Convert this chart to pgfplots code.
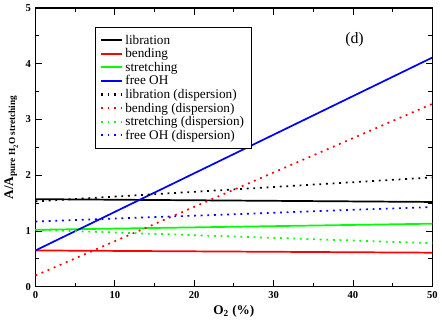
\documentclass[border=0pt]{standalone}
\usepackage{amsmath}
\usepackage{pgfplots}
\pgfplotsset{compat=1.18}
\usepackage{fontspec}
\setmainfont{Liberation Serif}
\definecolor{xgreen}{RGB}{0,255,0}
\definecolor{xred}{RGB}{255,0,0}
\definecolor{xblue}{RGB}{0,0,255}
\begin{document}
\begin{tikzpicture}
\begin{axis}[
  scale only axis,
  width=300pt, height=210.75pt,
  xmin=0, xmax=50, ymin=0, ymax=5,
  xtick={0,10,20,30,40,50}, ytick={0,1,2,3,4,5},
  minor x tick num=1, minor y tick num=1,
  tick align=inside,
  major tick length=5pt, minor tick length=3pt,
  axis line style={line width=1.2pt},
  every tick/.style={black, line width=0.6pt},
  tick label style={font=\bfseries\footnotesize},
  /pgf/number format/assume math mode=true,
  xlabel={\bfseries O$_{\text{\bfseries 2}}$ (\%)},
  ylabel={\bfseries A/A$_{\text{\bfseries pure H}_{\text{\bfseries 2}}\text{\bfseries O stretching}}$},
  label style={font=\bfseries\normalsize},
  xlabel style={yshift=2pt},
  ylabel style={yshift=-1pt},
  legend style={at={(0.15,0.93)}, anchor=north west, font=\fontsize{10}{10}\selectfont, row sep=-2.2pt, inner sep=3.5pt, legend cell align=left},
  legend image code/.code={\draw[#1, line width=1.6pt] (0cm,0.3pt) -- (0.55cm,0.3pt);},
]
\addplot[black, line width=1.3pt] coordinates {(0,1.57) (50,1.52)};
\addlegendentry{libration}
\addplot[xred, line width=1.3pt] coordinates {(0,0.65) (50,0.61)};
\addlegendentry{bending}
\addplot[xgreen, line width=1.3pt] coordinates {(0,1.02) (50,1.13)};
\addlegendentry{stretching}
\addplot[xblue, line width=1.3pt] coordinates {(0,0.65) (50,4.11)};
\addlegendentry{free OH}
\addplot[black, line width=1.3pt, dash pattern=on 1.4pt off 3.6pt] coordinates {(0,1.53) (50,1.96)};
\addlegendentry{libration (dispersion)}
\addplot[xred, line width=1.3pt, dash pattern=on 1.4pt off 3.6pt] coordinates {(0,0.2) (50,3.28)};
\addlegendentry{bending (dispersion)}
\addplot[xgreen, line width=1.3pt, dash pattern=on 1.4pt off 3.6pt] coordinates {(0,1.02) (50,0.78)};
\addlegendentry{stretching (dispersion)}
\addplot[xblue, line width=1.3pt, dash pattern=on 1.4pt off 3.6pt] coordinates {(0,1.17) (50,1.43)};
\addlegendentry{free OH (dispersion)}
\node[font=\large] at (axis cs:40.2,4.43) {(d)};
\end{axis}
\end{tikzpicture}
\end{document}
